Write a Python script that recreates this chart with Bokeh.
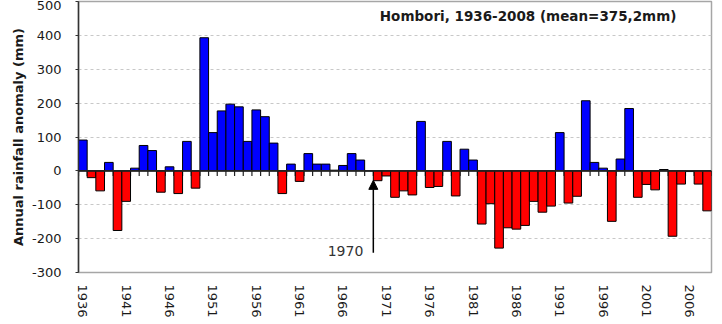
from bokeh.embed import file_html
from bokeh.models import (Arrow, ColumnDataSource, FixedTicker, Label,
                          NormalHead, Range1d, Span)
from bokeh.plotting import figure
from bokeh.resources import INLINE
import math

# Annual rainfall anomalies at Hombori (mm, relative to the 1936-2008 mean)
years = list(range(1936, 2009))
anomaly = [
    91, -20, -59, 25, -176, -90, 8, 75, 60, -63,      # 1936-1945
    12, -67, 87, -51, 393, 113, 177, 197, 189, 87,    # 1946-1955
    180, 160, 82, -67, 20, -31, 51, 20, 20, 2,        # 1956-1965
    16, 51, 32, 0, -29, -15, -78, -59, -71, 146,      # 1966-1975
    -49, -46, 87, -74, 64, 32, -157, -97, -228, -168, # 1976-1985
    -172, -161, -90, -122, -104, 113, -95, -75, 207, 25,  # 1986-1995
    8, -149, 35, 184, -78, -40, -56, 4, -193, -39,    # 1996-2005
    -2, -39, -118,                                    # 2006-2008
]
y_ticks = [-300, -200, -100, 0, 100, 200, 300, 400, 500]
x_ticks = years[::5]
title_text = "Hombori, 1936-2008 (mean=375,2mm)"
marker_year = 1970

BLUE = "#0000FF"
RED = "#FF0000"
FONT = "DejaVu Sans"

colors = [BLUE if v >= 0 else RED for v in anomaly]
src = ColumnDataSource(dict(year=years, anomaly=anomaly, color=colors))

p = figure(width=722, height=324, output_backend="svg", toolbar_location=None,
           x_range=Range1d(years[0] - 0.5, years[-1] + 0.5),
           y_range=Range1d(y_ticks[0], y_ticks[-1]),
           min_border_left=78, min_border_right=11,
           min_border_top=1, min_border_bottom=52)
p.background_fill_color = "white"
p.border_fill_color = "white"
p.outline_line_color = "#a6a6a6"
p.outline_line_width = 1.5

# horizontal dashed grid
p.xgrid.grid_line_color = None
p.ygrid.ticker = FixedTicker(ticks=y_ticks)
p.ygrid.grid_line_color = "#c8c8c8"
p.ygrid.grid_line_dash = "3 3"
p.ygrid.grid_line_width = 1

# y axis (plain hyphen for negative numbers)
p.yaxis.ticker = FixedTicker(ticks=y_ticks)
p.yaxis.major_label_overrides = {t: str(t) for t in y_ticks}
p.yaxis.axis_line_color = "#333333"
p.yaxis.axis_line_width = 1.5
p.yaxis.major_tick_line_color = "#333333"
p.yaxis.major_tick_out = 3
p.yaxis.major_tick_in = 0
p.yaxis.minor_tick_line_color = None
p.yaxis.major_label_standoff = 14
p.yaxis.major_label_text_font = FONT
p.yaxis.major_label_text_font_size = "13px"
p.yaxis.major_label_text_color = "#1a1a1a"
p.yaxis.axis_label = "Annual rainfall anomaly (mm)"
p.yaxis.axis_label_text_font = FONT
p.yaxis.axis_label_text_font_style = "bold"
p.yaxis.axis_label_text_font_size = "13px"
p.yaxis.axis_label_text_color = "#1a1a1a"
p.yaxis.axis_label_standoff = 3

# x axis: labels only, every fifth year, written upwards
p.xaxis.ticker = FixedTicker(ticks=x_ticks)
p.xaxis.major_label_overrides = {t: str(t) for t in x_ticks}
p.xaxis.axis_line_color = None
p.xaxis.major_tick_line_color = None
p.xaxis.minor_tick_line_color = None
p.xaxis.major_tick_out = 0
p.xaxis.major_tick_in = 0
p.xaxis.major_label_orientation = "vertical"
p.xaxis.major_label_standoff = 12
p.xaxis.major_label_text_font = FONT
p.xaxis.major_label_text_font_size = "13px"
p.xaxis.major_label_text_color = "#1a1a1a"

# small tick marks hanging below the zero line at every year boundary
bounds = [y - 0.5 for y in years] + [years[-1] + 0.5]
p.ray(x=bounds, y=[0] * len(bounds), length=5, length_units="screen",
      angle=-math.pi / 2, line_color="#222222", line_width=1.2)

# anomaly bars
p.vbar(x="year", top="anomaly", bottom=0, width=1, source=src,
       fill_color="color", line_color="black", line_width=1)

# zero line
p.add_layout(Span(location=0, dimension="width", line_color="#222222",
                  line_width=1.6))

# arrow marking the start of 1970 with its label
p.add_layout(Arrow(end=NormalHead(size=9, fill_color="black", line_color="black"),
                   x_start=marker_year - 0.5, y_start=-242,
                   x_end=marker_year - 0.5, y_end=-28,
                   line_color="black", line_width=1.5))
p.add_layout(Label(x=marker_year - 0.5, y=-236, x_offset=-10,
                   text=str(marker_year), text_align="right",
                   text_baseline="middle", text_font=FONT,
                   text_font_size="14px", text_color="#333333"))

# station title inside the plot area, top right
p.add_layout(Label(x=2004.45, y=458,
                   text=title_text, text_align="right",
                   text_baseline="middle", text_font=FONT,
                   text_font_style="bold", text_font_size="13.5px",
                   text_color="#1a1a1a"))

open("out.html", "w").write(file_html(p, INLINE))
